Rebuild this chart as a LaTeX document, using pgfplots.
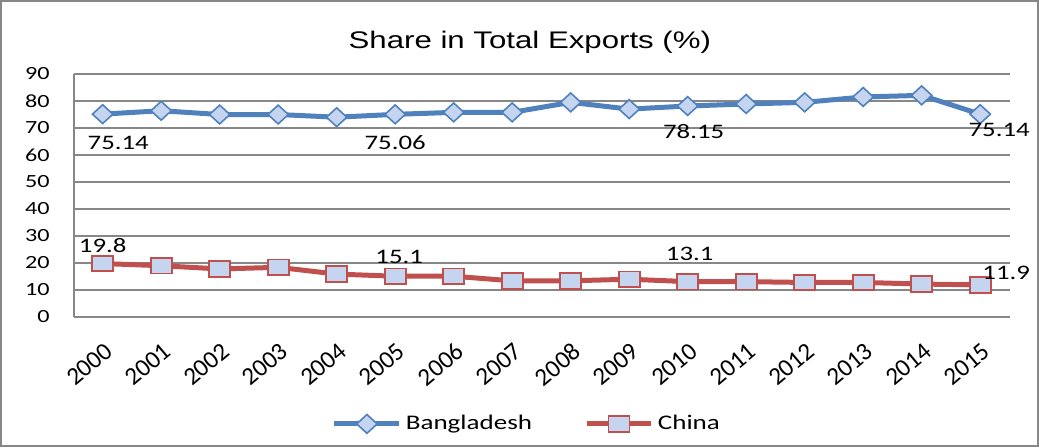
\documentclass[border=0pt]{standalone}
\usepackage{pgfplots}
\usepackage{pgfplotstable}
\pgfplotsset{compat=1.18}
\usepackage{fontspec}
\setmainfont{Carlito}[FakeStretch=1.3]
\newfontfamily\xfont{Carlito}
\newfontfamily\titlefont{Liberation Sans}[FakeStretch=1.3]
\definecolor{bdblue}{HTML}{4F81BD}
\definecolor{cnred}{HTML}{C0504D}
\definecolor{mkfill}{HTML}{C6D5EF}
\definecolor{gridgray}{HTML}{878787}

\pgfplotstableread{
year bd
2000 75.14
2001 76.4
2002 75.0
2003 75.0
2004 74.0
2005 75.06
2006 75.8
2007 75.8
2008 79.5
2009 77.0
2010 78.15
2011 78.9
2012 79.5
2013 81.5
2014 82.1
2015 75.14
}\bdtable

\pgfplotstableread{
year cn
2000 19.8
2001 19.0
2002 17.8
2003 18.4
2004 15.9
2005 15.1
2006 15.1
2007 13.4
2008 13.4
2009 14.0
2010 13.1
2011 13.1
2012 12.8
2013 12.8
2014 12.2
2015 11.9
}\cntable

\pgfplotstableread{
year val lab dx dy
2000 75.14 75.14 7.8 -14.3
2005 75.06 75.06 0 -14.3
2010 78.15 78.15 3 -13
2015 75.14 75.14 9.5 -8
}\bdlab

\pgfplotstableread{
year val lab dx dy
2000 19.8 19.8 0 9
2005 15.1 15.1 2 9.5
2010 13.1 13.1 1 14
2015 11.9 11.9 13 6
}\cnlab

\begin{document}
\begin{tikzpicture}
\begin{axis}[
  scale only axis,
  width=468pt, height=121.5pt,
  xmin=1999.51, xmax=2015.51,
  ymin=0, ymax=90,
  ytick={0,10,...,90},
  xtick={2000,...,2015},
  xticklabels={2000,2001,2002,2003,2004,2005,2006,2007,2008,2009,2010,2011,2012,2013,2014,2015},
  major tick length=0pt,
  axis x line*=bottom, axis y line*=left,
  axis line style={gridgray, line width=1pt, -},
  ymajorgrids,
  major grid style={gridgray, line width=0.7pt},
  /pgf/number format/assume math mode=true,
  yticklabel style={font=\fontsize{9.3}{10}\selectfont, text=black, anchor=east, inner sep=0pt, xshift=-12pt},
  xticklabel style={font=\xfont\fontsize{12.5}{14}\selectfont, text=black, yshift=-12pt, xshift=0.5pt, rotate=40, anchor=north east, inner sep=0pt},
  title={\titlefont\fontsize{12}{14}\selectfont Share in Total Exports (\%)},
  title style={at={(0.487,1)}, yshift=0.5pt},
  legend style={at={(0.485,-0.44)}, anchor=center, draw=none, fill=none,
    legend columns=2, font=\fontsize{10.4}{12}\selectfont,
    /tikz/every even column/.append style={column sep=24pt}},
  legend image code/.code={\draw[#1, mark repeat=2, mark phase=2] plot coordinates {(0cm,0cm)(0.57cm,0cm)(1.14cm,0cm)};},
  clip=false,
]
\addplot[bdblue, line width=2.5pt, mark=diamond*, mark size=4.7pt,
  mark options={xscale=1.45, fill=mkfill, draw=bdblue, line width=0.8pt, solid}]
  table[x=year, y=bd] {\bdtable};
\addlegendentry{Bangladesh}
\addplot[cnred, line width=2.5pt, mark=square*, mark size=3.9pt,
  mark options={xscale=1.35, fill=mkfill, draw=cnred, line width=0.9pt, solid}]
  table[x=year, y=cn] {\cntable};
\addlegendentry{China}

\addplot[draw=none, mark=none, forget plot,
  point meta=explicit symbolic,
  visualization depends on={\thisrow{dx} \as \ldx},
  visualization depends on={\thisrow{dy} \as \ldy},
  nodes near coords,
  nodes near coords style={anchor=center, xshift=\ldx pt, yshift=\ldy pt, font=\fontsize{10.3}{12}\selectfont, text=black}]
  table[x=year, y=val, meta=lab] {\bdlab};
\addplot[draw=none, mark=none, forget plot,
  point meta=explicit symbolic,
  visualization depends on={\thisrow{dx} \as \ldx},
  visualization depends on={\thisrow{dy} \as \ldy},
  nodes near coords,
  nodes near coords style={anchor=center, xshift=\ldx pt, yshift=\ldy pt, font=\fontsize{10.3}{12}\selectfont, text=black}]
  table[x=year, y=val, meta=lab] {\cnlab};
\end{axis}
\draw[gridgray, line width=0.8pt] (-36.6pt,-64.6pt) rectangle (482.1pt,158.1pt);
\end{tikzpicture}
\end{document}
